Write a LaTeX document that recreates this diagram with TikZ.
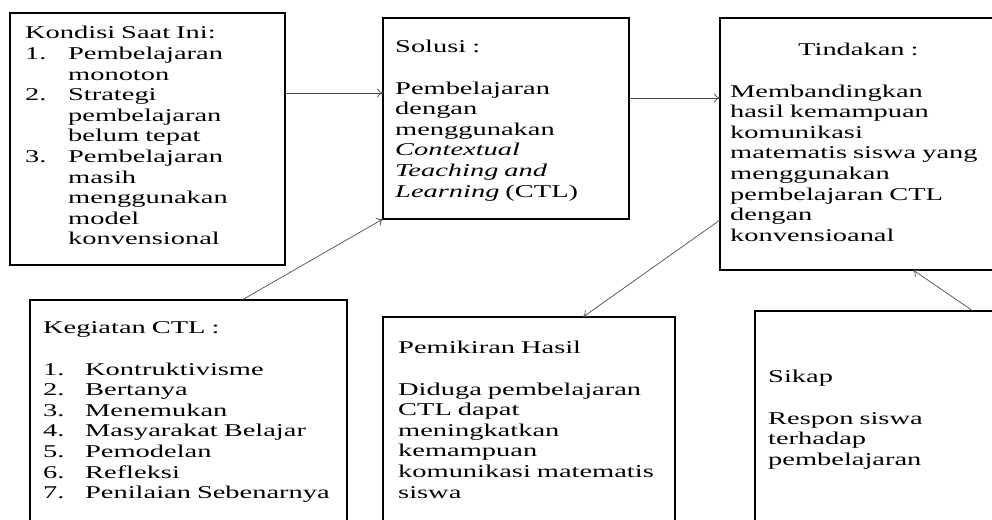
\documentclass[tikz,border=0pt]{standalone}
\usepackage{fontspec}
\setmainfont{Liberation Serif}[FakeStretch=1.58]
\usetikzlibrary{arrows.meta}
\newcommand{\itm}[2]{\makebox[#1][l]{#2}}

\begin{document}
\begin{tikzpicture}[x=1pt, y=1pt,
    box/.style={draw, line width=1.6pt, anchor=north west, inner sep=0pt, outer sep=0pt},
    txt/.style={anchor=base west, inner sep=0pt, text width=300pt, align=left,
      font=\fontsize{18}{20.6}\selectfont},
    arr/.style={draw=black!70, line width=0.7pt, -{To[length=6pt,width=9pt]}}]

    \useasboundingbox (0,0) rectangle (992,519);
    \clip (0,0) rectangle (992,519);

    \node[box, minimum width=275pt, minimum height=252pt] (kondisi) at (10,506) {};
    \node[txt] (kondisitxt) at ([xshift=15pt,yshift=-26pt]kondisi.north west)
      {Kondisi Saat Ini:\\
       \itm{43pt}{1.}Pembelajaran\\ \hspace*{43pt}monoton\\
       \itm{43pt}{2.}Strategi\\ \hspace*{43pt}pembelajaran\\ \hspace*{43pt}belum tepat\\
       \itm{43pt}{3.}Pembelajaran\\ \hspace*{43pt}masih\\ \hspace*{43pt}menggunakan\\
       \hspace*{43pt}model\\ \hspace*{43pt}konvensional};

    \node[box, minimum width=246pt, minimum height=201pt] (solusi) at (383,501) {};
    \node[txt] (solusitxt) at ([xshift=12pt,yshift=-35pt]solusi.north west)
      {Solusi :\\[20.6pt]
       Pembelajaran\\ dengan\\ menggunakan\\ \textit{Contextual}\\
       \textit{Teaching and}\\ \textit{Learning} (CTL)};

    \node[box, minimum width=290pt, minimum height=252pt] (tindakan) at (720,501) {};
    \node[txt] (tindakantxt) at ([xshift=10pt,yshift=-38pt]tindakan.north west)
      {\hspace*{68pt}Tindakan :\\[20.6pt]
       Membandingkan\\ hasil kemampuan\\ komunikasi\\ matematis siswa yang\\
       menggunakan\\ pembelajaran CTL\\ dengan\\ konvensioanal};

    \node[box, minimum width=317pt, minimum height=240pt] (kegiatan) at (30,219) {};
    \node[txt] (kegiatantxt) at ([xshift=13pt,yshift=-34pt]kegiatan.north west)
      {Kegiatan CTL :\\[20.6pt]
       \itm{42pt}{1.}Kontruktivisme\\ \itm{42pt}{2.}Bertanya\\ \itm{42pt}{3.}Menemukan\\
       \itm{42pt}{4.}Masyarakat Belajar\\ \itm{42pt}{5.}Pemodelan\\ \itm{42pt}{6.}Refleksi\\
       \itm{42pt}{7.}Penilaian Sebenarnya};

    \node[box, minimum width=292pt, minimum height=230pt] (pemikiran) at (383,202) {};
    \node[txt] (pemikirantxt) at ([xshift=15pt,yshift=-37pt]pemikiran.north west)
      {Pemikiran Hasil\\[20.6pt]
       Diduga pembelajaran\\ CTL dapat\\ meningkatkan\\ kemampuan\\
       komunikasi matematis\\ siswa};

    \node[box, minimum width=260pt, minimum height=230pt] (sikap) at (755,208) {};
    \node[txt] (sikaptxt) at ([xshift=13pt,yshift=-72pt]sikap.north west)
      {Sikap\\[20.6pt]
       Respon siswa\\ terhadap\\ pembelajaran};

    % connectors
    \draw[arr] ([yshift=-80pt]kondisi.north east) -- ([yshift=-75pt]solusi.north west);
    \draw[arr] ([xshift=212pt]kegiatan.north west) -- (solusi.south west);
    \draw[arr] ([yshift=-80pt]solusi.north east) -- ([yshift=-80pt]tindakan.north west);
    \draw[arr] ([yshift=-202pt]tindakan.north west) -- ([xshift=200pt]pemikiran.north west);
    \draw[arr] ([xshift=218pt]sikap.north west) -- ([xshift=193pt]tindakan.south west);
\end{tikzpicture}
\end{document}
